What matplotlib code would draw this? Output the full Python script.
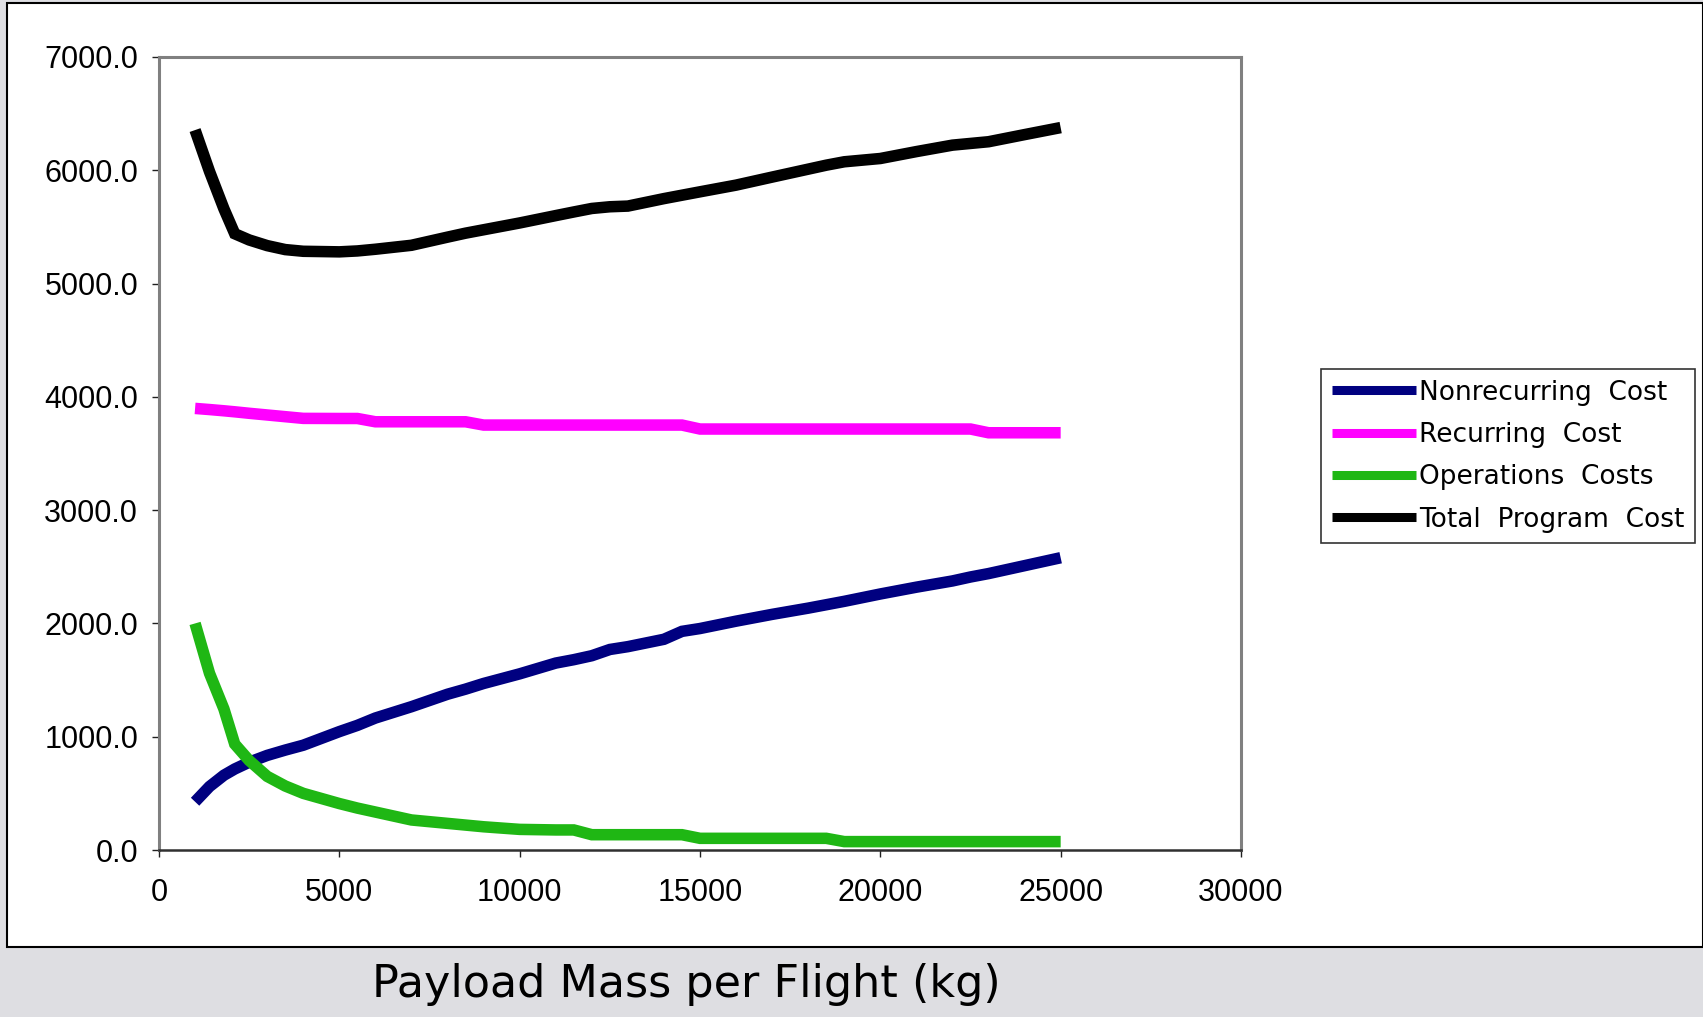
import matplotlib.pyplot as plt
from matplotlib.patches import Rectangle

# payload mass per flight (kg)
payload = [1000, 1400, 1800, 2100, 2500, 3000, 3500, 4000, 5000, 5500,
           6000, 7000, 8000, 8500, 9000, 10000, 11000, 11500, 12000, 12500,
           13000, 14000, 14500, 15000, 16000, 17000, 18000, 18500, 19000, 20000,
           21000, 22000, 22500, 23000, 24000, 25000]

nonrecurring = [426, 560, 660, 715, 775, 835, 882, 925, 1045, 1100,
                1165, 1265, 1375, 1420, 1470, 1555, 1650, 1680, 1715, 1770,
                1795, 1860, 1930, 1955, 2020, 2080, 2135, 2165, 2195, 2260,
                2320, 2375, 2410, 2440, 2510, 2580]

recurring = [3898, 3888, 3877, 3868, 3855, 3840, 3825, 3810, 3809, 3809,
             3780, 3780, 3780, 3780, 3751, 3751, 3751, 3751, 3751, 3751,
             3751, 3751, 3751, 3716, 3716, 3716, 3716, 3716, 3716, 3716,
             3716, 3716, 3716, 3683, 3683, 3683]

operations = [2000, 1560, 1245, 935, 790, 650, 565, 500, 410, 370,
              335, 265, 235, 220, 205, 182, 177, 177, 135, 135,
              135, 135, 135, 103, 103, 103, 103, 103, 74, 74,
              74, 74, 74, 74, 74, 74]

total = [6355, 5990, 5660, 5440, 5385, 5335, 5300, 5285, 5280, 5288,
         5303, 5338, 5410, 5445, 5475, 5535, 5600, 5632, 5663, 5678,
         5684, 5750, 5780, 5810, 5869, 5940, 6010, 6045, 6075, 6104,
         6165, 6222, 6237, 6252, 6315, 6377]

series_names = ["Nonrecurring  Cost", "Recurring  Cost", "Operations  Costs", "Total  Program  Cost"]
series_colors = ["#000080", "#ff00ff", "#1fb714", "#000000"]

W, H = 1703, 1017
fig = plt.figure(figsize=(W / 100, H / 100), dpi=100, facecolor="#dedee2")

# white slide panel holding the chart
panel = Rectangle((7 / W, 1 - 947 / H), 1 - 7 / W, (947 - 3) / H,
                  transform=fig.transFigure, facecolor="white",
                  edgecolor="black", linewidth=1.5, zorder=-10)
fig.patches.append(panel)

ax = fig.add_axes([159 / W, 1 - 850 / H, (1241 - 159) / W, (850 - 57) / H])
ax.set_zorder(2)
ax.set_facecolor("white")

for y, name, c in zip([nonrecurring, recurring, operations, total], series_names, series_colors):
    ax.plot(payload, y, color=c, lw=8.3, label=name,
            solid_capstyle="butt", solid_joinstyle="miter")

ax.set_xlim(0, 30000)
ax.set_ylim(0, 7000)
ax.set_xticks(range(0, 30001, 5000))
ax.set_yticks(range(0, 7001, 1000))
ax.set_yticklabels([f"{v:.1f}" for v in range(0, 7001, 1000)])

for side in ["left", "top", "right"]:
    ax.spines[side].set_color("#808080")
    ax.spines[side].set_linewidth(2.2)
ax.spines["bottom"].set_color("#303030")
ax.spines["bottom"].set_linewidth(1.8)

ax.tick_params(axis="both", direction="out", length=5, width=1, color="#202020",
               labelsize=22)
ax.tick_params(axis="y", pad=10)
ax.tick_params(axis="x", pad=15)
for lab in ax.get_xticklabels() + ax.get_yticklabels():
    lab.set_fontfamily("Liberation Sans")

leg = ax.legend(loc="upper left", bbox_to_anchor=(1321 / W, 1 - 369 / H),
                bbox_transform=fig.transFigure, borderaxespad=0,
                prop={"family": "DejaVu Sans", "size": 19},
                frameon=True, fancybox=False, edgecolor="black",
                handlelength=3.2, handletextpad=0.1, labelspacing=0.62,
                borderpad=0.4)
leg.get_frame().set_linewidth(1.2)
for line in leg.get_lines():
    line.set_linewidth(6.5)

fig.text(686 / W, 1 - 985 / H, "Payload Mass per Flight (kg)", ha="center", va="center",
         fontsize=32, family="DejaVu Sans")

fig.savefig("out.png", dpi=100, facecolor=fig.get_facecolor())
